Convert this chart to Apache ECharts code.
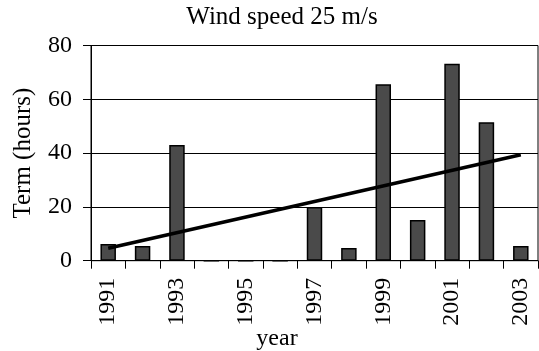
<!DOCTYPE html>
<html>
<head>
<meta charset="utf-8">
<script src="https://cdn.jsdelivr.net/npm/echarts@6/dist/echarts.min.js"></script>
<style>html,body{margin:0;padding:0;background:#fff}#c{width:539px;height:351px}</style>
</head>
<body>
<div id="c"></div>
<script>
var years = ['1991','1992','1993','1994','1995','1996','1997','1998','1999','2000','2001','2002','2003'];
var hours = [6.2, 5.5, 43, 0, 0, 0, 20, 4.7, 65.6, 15.1, 73.2, 51.5, 5.5];
var trend = [4.6, null, null, null, null, null, null, null, null, null, null, null, 39.4];
var yTicks = [0, 20, 40, 60, 80];

var FONT = 'Liberation Serif';
var chart = echarts.init(document.getElementById('c'), null, {renderer: 'canvas'});
chart.setOption({
  animation: false,
  backgroundColor: '#fff',
  title: {
    text: 'Wind speed 25 m/s',
    left: 282, top: 5, textAlign: 'center', padding: 0,
    textStyle: {fontFamily: FONT, fontSize: 25, fontWeight: 'normal', color: '#000'}
  },
  grid: {left: 91, right: 1, top: 45.5, bottom: 90.3, containLabel: false, outerBoundsMode: 'none',
         show: true, borderColor: '#000', borderWidth: 1, backgroundColor: 'transparent'},
  xAxis: {
    type: 'category',
    data: years,
    name: 'year',
    nameLocation: 'middle',
    nameGap: 66.5,
    nameMoveOverlap: false,
    nameTextStyle: {fontFamily: FONT, fontSize: 24, color: '#000', padding: [0, 75, 0, 0]},
    axisLine: {lineStyle: {color: '#000', width: 1}},
    axisTick: {show: true, interval: 0, length: 8, lineStyle: {color: '#000'}},
    axisLabel: {interval: 1, rotate: 90, margin: 17, fontFamily: FONT, fontSize: 24, color: '#000'}
  },
  yAxis: {
    type: 'value',
    min: yTicks[0], max: yTicks[yTicks.length - 1], interval: 20,
    name: 'Term (hours)',
    nameLocation: 'middle',
    nameGap: 55,
    nameMoveOverlap: false,
    nameTextStyle: {fontFamily: FONT, fontSize: 25, color: '#000'},
    axisLine: {show: true, lineStyle: {color: '#000', width: 1}},
    axisTick: {show: true, length: 8, lineStyle: {color: '#000'}},
    axisLabel: {margin: 19, fontFamily: FONT, fontSize: 24, color: '#000'},
    splitLine: {show: true, lineStyle: {color: '#000', width: 1}}
  },
  series: [
    {
      type: 'bar',
      data: hours,
      barWidth: '45%',
      itemStyle: {color: '#4a4a4a', borderColor: '#000', borderWidth: 1.5}
    },
    {
      type: 'line',
      data: trend,
      connectNulls: true,
      symbol: 'none',
      lineStyle: {color: '#000', width: 3.5},
      z: 5
    }
  ]
});
</script>
</body>
</html>
